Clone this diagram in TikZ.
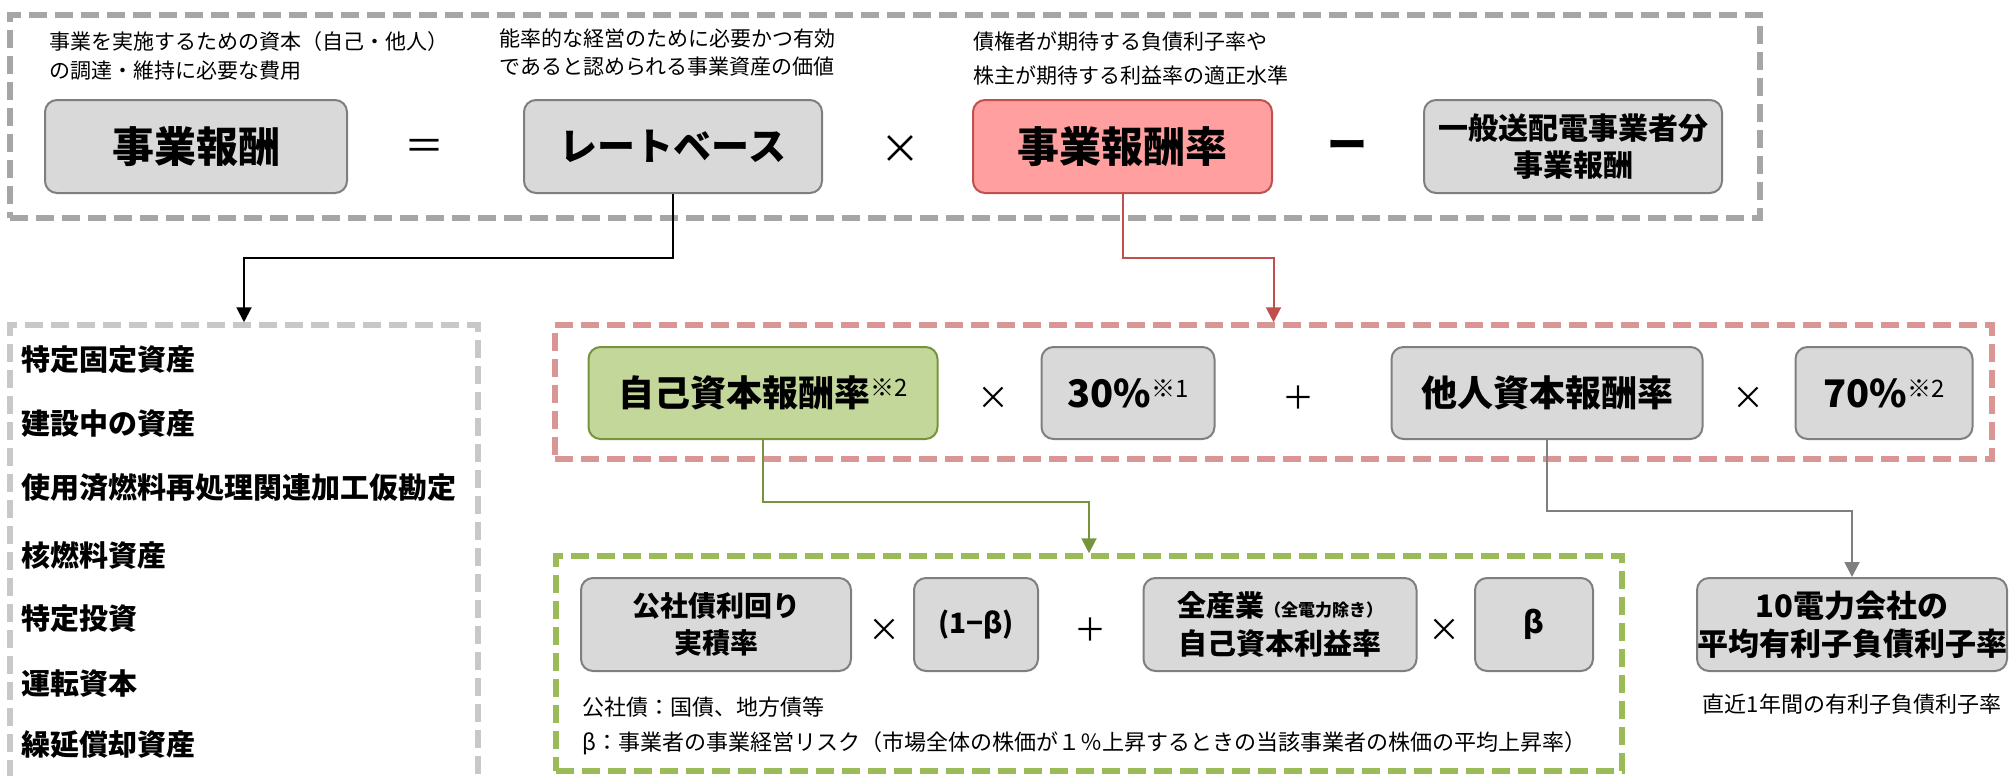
\documentclass[tikz,border=0pt]{standalone}
\usepackage{fontspec}
\setmainfont{Noto Sans CJK JP}
\usetikzlibrary{arrows.meta}
\definecolor{boxgray}{HTML}{D9D9D9}
\definecolor{boxline}{HTML}{7F7F7F}
\definecolor{pinkfill}{HTML}{FF9F9F}
\definecolor{pinkline}{HTML}{C0504D}
\definecolor{greenfill}{HTML}{C4D79B}
\definecolor{greenline}{HTML}{77933C}
\definecolor{dashgray}{HTML}{A6A6A6}
\definecolor{dashlight}{HTML}{C8C8C8}
\definecolor{dashpink}{HTML}{DA9694}
\definecolor{dashgreen}{HTML}{9BBB59}
\newcommand{\fs}[1]{\fontsize{#1}{#1}\selectfont}
\newcommand{\kome}[1]{\raisebox{10pt}{\fs{24}\mdseries※#1}}
\begin{document}
\begin{tikzpicture}[x=1pt,y=-1pt,
  rbox/.style={draw=boxline, fill=boxgray, line width=2pt, rounded corners=12pt, inner sep=0pt, align=center, font=\bfseries},
  pbox/.style={rbox, draw=pinkline, fill=pinkfill},
  gbox/.style={rbox, draw=greenline, fill=greenfill},
  dbox/.style={line width=5.5pt, dash pattern=on 18pt off 8pt, inner sep=0pt},
  desc/.style={anchor=west, inner sep=0pt, font=\fs{21}},
  note/.style={anchor=west, inner sep=0pt, font=\fs{22}},
  item/.style={anchor=west, inner sep=0pt, font=\fs{29}\bfseries},
  op/.style={inner sep=0pt, font=\fs{40}},
  opm/.style={inner sep=0pt, font=\fs{32}},
  arr/.style={line width=2pt, -{Triangle[length=15pt,width=15pt]}}
]
\useasboundingbox (0,0) rectangle (2015,776);
% dashed frames
\node[dbox, draw=dashgray, minimum width=1750pt, minimum height=203pt] (top) at (885,116.5) {};
\node[dbox, draw=dashlight, minimum width=468pt, minimum height=475pt] (list) at (244,562.5) {};
\node[dbox, draw=dashpink, minimum width=1437pt, minimum height=134pt] (pk) at (1273.5,392) {};
\node[dbox, draw=dashgreen, minimum width=1066pt, minimum height=215pt] (gb) at (1089,663.5) {};
% top descriptions
\node[desc] (d1a) at (49,42) {事業を実施するための資本（自己・他人）};
\node[desc] (d1b) at (49,71) {の調達・維持に必要な費用};
\node[desc] (d2a) at (499,39) {能率的な経営のために必要かつ有効};
\node[desc] (d2b) at (499,67) {であると認められる事業資産の価値};
\node[desc] (d3a) at (973,42) {債権者が期待する負債利子率や};
\node[desc] (d3b) at (973,75) {株主が期待する利益率の適正水準};
% top row
\node[rbox, minimum width=302pt, minimum height=93pt, font=\fs{42}\bfseries] (jh) at (196,146.5) {事業報酬};
\node[op] (eq) at (424,150) {＝};
\node[rbox, minimum width=298pt, minimum height=93pt, font=\fs{38}\bfseries] (rb) at (673,146.5) {レートベース};
\node[op] (mul0) at (900,150) {×};
\node[pbox, minimum width=299pt, minimum height=93pt, font=\fs{42}\bfseries] (rr) at (1122.5,146.5) {事業報酬率};
\node[op, font=\fs{40}\bfseries] (minus) at (1347,150) {ー};
\node[rbox, minimum width=298pt, minimum height=93pt, font=\fs{30}\bfseries] (ip) at (1573,146.5) {一般送配電事業者分\\[7pt]事業報酬};
% list items
\node[item] (i1) at (21,360) {特定固定資産};
\node[item] (i2) at (21,424) {建設中の資産};
\node[item] (i3) at (21,488) {使用済燃料再処理関連加工仮勘定};
\node[item] (i4) at (21,555) {核燃料資産};
\node[item] (i5) at (21,619) {特定投資};
\node[item] (i6) at (21,684) {運転資本};
\node[item] (i7) at (21,745) {繰延償却資産};
% middle row
\node[gbox, minimum width=349pt, minimum height=92pt, font=\fs{36}\bfseries] (own) at (763,393) {自己資本報酬率\kome{2}};
\node[opm] (mul1) at (993,398) {×};
\node[rbox, minimum width=173pt, minimum height=92pt, font=\fs{38}\bfseries] (p30) at (1128,393) {30\%\kome{1}};
\node[opm] (plus1) at (1298,398) {＋};
\node[rbox, minimum width=311pt, minimum height=92pt, font=\fs{36}\bfseries] (oth) at (1547,393) {他人資本報酬率};
\node[opm] (mul2) at (1748,398) {×};
\node[rbox, minimum width=177pt, minimum height=92pt, font=\fs{38}\bfseries] (p70) at (1884,393) {70\%\kome{2}};
% bottom row
\node[rbox, minimum width=270pt, minimum height=93pt, font=\fs{28}\bfseries] (ks) at (716,624.5) {公社債利回り\\[9pt]実積率};
\node[opm] (mul3) at (884,630) {×};
\node[rbox, minimum width=124pt, minimum height=93pt, font=\fs{28}\bfseries] (ob) at (976,624.5) {(1−β)};
\node[opm] (plus2) at (1090,630) {＋};
\node[rbox, minimum width=273pt, minimum height=93pt, font=\fs{29}\bfseries] (zs) at (1280,624.5) {全産業{\fs{17}（全電力除き）}\\[9pt]自己資本利益率};
\node[opm] (mul4) at (1444,630) {×};
\node[rbox, minimum width=118pt, minimum height=93pt, font=\fs{30}\bfseries] (be) at (1534,624.5) {β};
\node[note] (n1) at (582,707) {公社債：国債、地方債等};
\node[note] (n2) at (582,743) {β：事業者の事業経営リスク（市場全体の株価が１％上昇するときの当該事業者の株価の平均上昇率）};
\node[rbox, minimum width=306pt, minimum height=93pt, font=\fs{31}\bfseries] (ten) at (1852,624.5) {10電力会社の\\[7pt]平均有利子負債利子率};
\node[inner sep=0pt, font=\fs{22}] (chk) at (1852,704) {直近1年間の有利子負債利子率};
% connectors
\draw[arr, black] (rb.south) -- ++(0,64) -| (list.north);
\draw[arr, pinkline] (rr.south) -- ++(0,64) -| (pk.north);
\draw[arr, greenline] (own.south) -- ++(0,62) -| (gb.north);
\draw[arr, boxline] (oth.south) -- ++(0,71) -| (ten.north);
\end{tikzpicture}
\end{document}
